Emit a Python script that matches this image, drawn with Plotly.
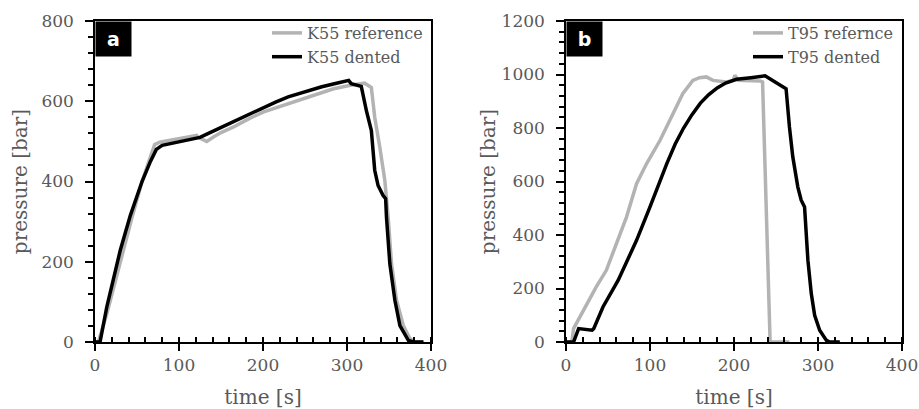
import plotly.graph_objects as go

# Panel a: K55
k55_ref_t = [0, 4, 14, 22, 32, 44, 56, 64, 71, 77, 100, 121, 123, 133, 141, 150, 165, 180, 200, 224, 250, 284, 304, 321, 329, 333, 339, 345, 349, 353, 359, 367, 375, 381, 391]
k55_ref_p = [0, 0, 70, 135, 215, 310, 400, 450, 492, 498, 507, 515, 510, 500, 511, 522, 536, 553, 573, 589, 608, 631, 640, 645, 634, 560, 486, 403, 311, 195, 104, 41, 8, 0, 0]
k55_dent_t = [0, 6, 14, 22, 30, 42, 56, 66, 73, 80, 90, 110, 125, 135, 150, 170, 185, 200, 215, 230, 250, 270, 290, 302, 305, 315, 317, 323, 329, 333, 337, 343, 346, 347, 351, 357, 363, 373, 379, 391]
k55_dent_p = [0, 0, 87, 162, 228, 315, 400, 450, 480, 490, 494, 502, 510, 520, 535, 553, 568, 584, 598, 611, 624, 636, 646, 652, 644, 640, 637, 577, 527, 428, 390, 365, 357, 311, 195, 104, 41, 4, 0, 0]

# Panel b: T95
t95_ref_t = [0, 7, 9, 23, 36, 48, 60, 72, 84, 96, 112, 128, 139, 151, 159, 167, 175, 191, 199, 201, 205, 231, 234, 243, 266]
t95_ref_p = [0, 0, 50, 131, 206, 268, 368, 467, 592, 667, 754, 854, 928, 978, 988, 991, 978, 972, 978, 997, 978, 976, 972, 0, 0]
t95_dent_t = [0, 9, 15, 31, 33, 44, 62, 84, 100, 110, 120, 130, 140, 150, 160, 170, 180, 190, 203, 220, 237, 246, 262, 266, 270, 276, 280, 284, 286, 288, 292, 296, 302, 310, 314, 326]
t95_dent_p = [0, 0, 50, 44, 50, 131, 230, 380, 505, 590, 667, 740, 800, 850, 893, 925, 950, 968, 982, 988, 995, 978, 947, 804, 692, 579, 530, 505, 405, 305, 181, 100, 44, 6, 0, 0]

names_a = ["K55 reference", "K55 dented"]
names_b = ["T95 refernce", "T95 dented"]
panel_labels = ["a", "b"]
x_ticks = [0, 100, 200, 300, 400]
ya_ticks = [0, 200, 400, 600, 800]
yb_ticks = [0, 200, 400, 600, 800, 1000, 1200]

GRAY = "#b3b3b3"
BLACK = "#000000"
TXT = "#595959"
FONT = "DejaVu Serif"

fig = go.Figure()
fig.add_trace(go.Scatter(x=k55_ref_t, y=k55_ref_p, mode="lines", name=names_a[0],
                         line=dict(color=GRAY, width=3.5), xaxis="x", yaxis="y", legend="legend"))
fig.add_trace(go.Scatter(x=k55_dent_t, y=k55_dent_p, mode="lines", name=names_a[1],
                         line=dict(color=BLACK, width=3.5), xaxis="x", yaxis="y", legend="legend"))
fig.add_trace(go.Scatter(x=t95_ref_t, y=t95_ref_p, mode="lines", name=names_b[0],
                         line=dict(color=GRAY, width=3.5), xaxis="x2", yaxis="y2", legend="legend2"))
fig.add_trace(go.Scatter(x=t95_dent_t, y=t95_dent_p, mode="lines", name=names_b[1],
                         line=dict(color=BLACK, width=3.5), xaxis="x2", yaxis="y2", legend="legend2"))

W, H = 919, 409
dom_a = [95 / W, 431 / W]
dom_b = [566 / W, 902 / W]
dom_y = [1 - 342 / H, 1 - 21 / H]

tickfont = dict(family=FONT, size=17, color=TXT)
titlefont = dict(family=FONT, size=20, color=TXT)

def xax(domain, anchor):
    return dict(domain=domain, anchor=anchor, range=[0, 400], tickvals=x_ticks,
                ticks="outside", ticklen=7, tickwidth=1.5, tickcolor="black",
                minor=dict(dtick=20, ticks="inside", ticklen=5, tickwidth=1.5, tickcolor="black"),
                showline=True, linecolor="black", linewidth=1.5, mirror=True,
                showgrid=False, zeroline=False, tickfont=tickfont,
                title=dict(text="time [s]", font=titlefont, standoff=22), automargin=False)

def yax(domain, anchor, rng, ticks, standoff):
    return dict(domain=domain, anchor=anchor, range=rng, tickvals=ticks,
                ticks="outside", ticklen=8, tickwidth=1.5, tickcolor="black",
                minor=dict(dtick=40, ticks="outside", ticklen=5, tickwidth=1.5, tickcolor="black"),
                showline=True, linecolor="black", linewidth=1.5, mirror=True,
                showgrid=False, zeroline=False, tickfont=tickfont, ticklabelstandoff=8,
                title=dict(text="pressure [bar]", font=titlefont, standoff=standoff), automargin=False)

def overlay(base, rng, ticks, anchor):
    return dict(overlaying=base, anchor=anchor, range=rng, tickvals=ticks, matches=base,
                ticks="inside", ticklen=5, tickwidth=1.5, tickcolor="black",
                showticklabels=False, showline=False, showgrid=False, zeroline=False)

legend_common = dict(font=dict(family=FONT, size=16, color=TXT), bgcolor="rgba(0,0,0,0)",
                     xanchor="right", yanchor="top", tracegroupgap=0, itemwidth=30)

fig.update_layout(
    width=W, height=H, margin=dict(l=0, r=0, t=0, b=0),
    plot_bgcolor="white", paper_bgcolor="white", showlegend=True,
    xaxis=xax(dom_a, "y"),
    yaxis=yax(dom_y, "x", [0, 800], ya_ticks, 8),
    xaxis2=xax(dom_b, "y2"),
    yaxis2=yax(dom_y, "x2", [0, 1200], yb_ticks, 1),
    xaxis3=overlay("x", [0, 400], x_ticks, "y"),
    yaxis3=overlay("y", [0, 800], ya_ticks, "x"),
    xaxis4=overlay("x2", [0, 400], x_ticks, "y2"),
    yaxis4=overlay("y2", [0, 1200], yb_ticks, "x2"),
    legend=dict(x=428 / W, y=1 - 16 / H, **legend_common),
    legend2=dict(x=899 / W, y=1 - 16 / H, **legend_common),
)

for lab, xref, yref in [(panel_labels[0], "x domain", "y domain"), (panel_labels[1], "x2 domain", "y2 domain")]:
    fig.add_annotation(text="<b>%s</b>" % lab, xref=xref, yref=yref, x=0, y=1,
                       xanchor="left", yanchor="top", showarrow=False, width=35, height=34,
                       bgcolor="black", font=dict(family="DejaVu Sans", size=19, color="white"),
                       borderpad=0)

fig.write_html("out.html")
